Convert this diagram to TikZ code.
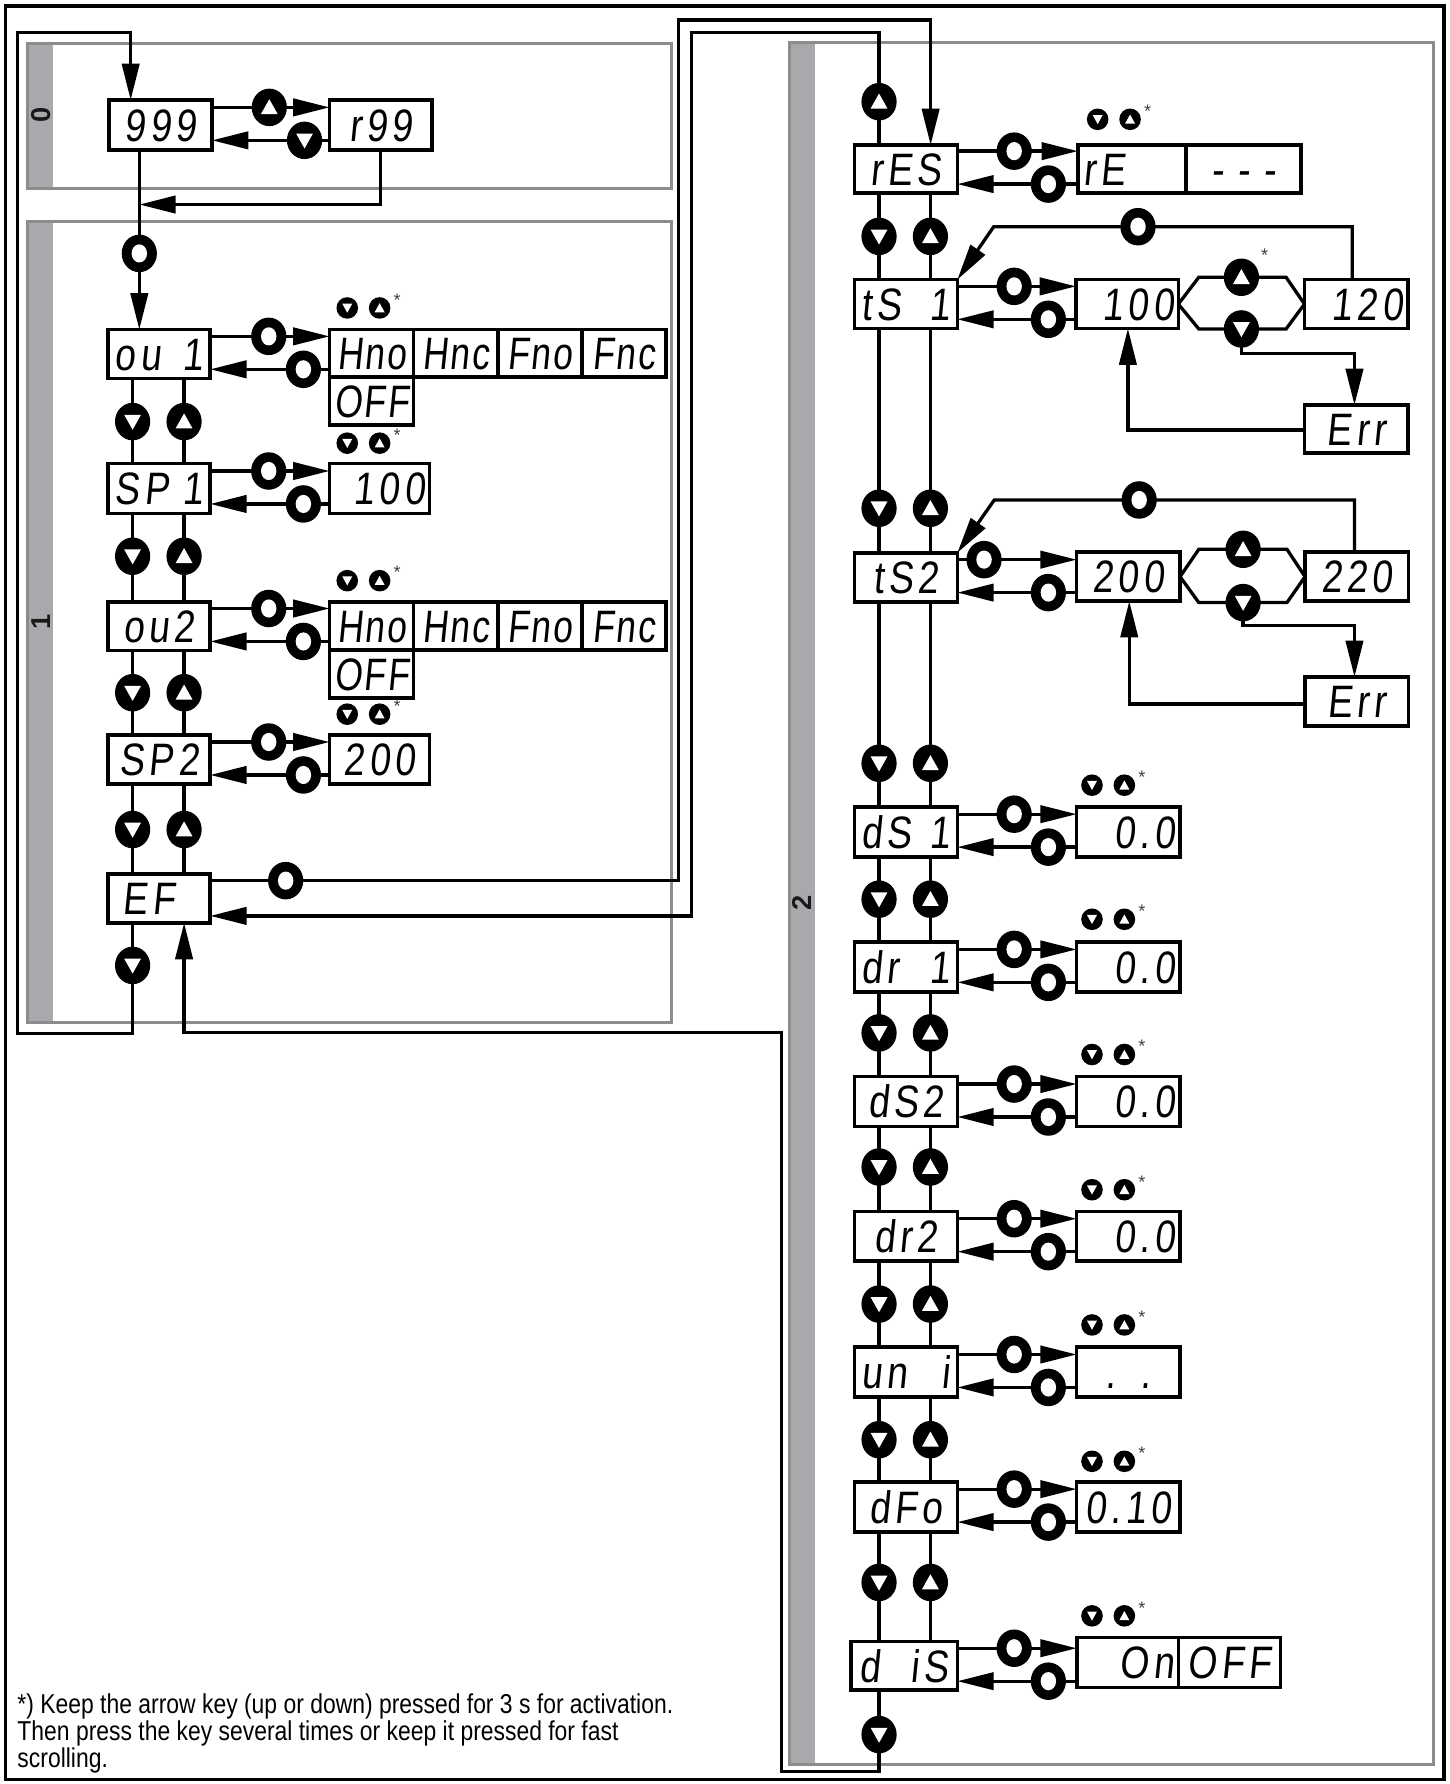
\documentclass[tikz,border=0pt]{standalone}
\usepackage{fontspec}
\setmainfont{Liberation Sans}
\newfontfamily\lcdfont{Liberation Sans}[FakeSlant=0.1,FakeStretch=0.82,LetterSpace=10]
\newfontfamily\lcdopt{Liberation Sans}[FakeSlant=0.1,FakeStretch=0.78,LetterSpace=4]
\newfontfamily\fnfont{Liberation Sans}[FakeStretch=0.84]
\usetikzlibrary{arrows.meta,shapes.geometric,calc}
\pgfdeclarelayer{panels}
\pgfdeclarelayer{lines}
\pgfsetlayers{panels,lines,main}
\definecolor{pborder}{HTML}{8C8C8C}
\definecolor{pstripe}{HTML}{A7A9AC}
\newcommand\lcdsp[2]{\hbox to 39pt{#1\hfill#2}}
\tikzset{
  x=0.5pt,y=-0.5pt,
  conn/.style={line width=1.45pt},
  arr/.style={conn,-{Triangle[length=16pt,width=7.6pt]}},
  lcd/.style={draw,line width=1.6pt,fill=white,inner sep=0pt,outer sep=0pt,
    font=\lcdfont\fontsize{20}{20}\selectfont,text height=14.3pt,text depth=0pt},
  opt/.style={lcd,font=\lcdopt\fontsize{20}{20}\selectfont,minimum width=37pt,minimum height=21pt},
  sz/.style 2 args={minimum width=#1,minimum height=#2},
  rt/.style={align=right,text width=#1},
  lt/.style={align=left,text width=#1},
  bigkey/.style={ellipse,fill=black,minimum width=15.5pt,minimum height=16.5pt,inner sep=0pt,outer sep=0pt},
  okey/.style={bigkey,path picture={\fill[white] (path picture bounding box.center) ellipse [x radius=3.4pt,y radius=4pt];}},
  ukey/.style={bigkey,path picture={\fill[white] ($(path picture bounding box.center)+(0pt,3.6pt)$) -- ++(-3.7pt,-6.6pt) -- ++(7.4pt,0pt) -- cycle;}},
  dkey/.style={bigkey,path picture={\fill[white] ($(path picture bounding box.center)+(0pt,-3.6pt)$) -- ++(-3.7pt,6.6pt) -- ++(7.4pt,0pt) -- cycle;}},
  smkey/.style={circle,fill=black,minimum size=9.5pt,inner sep=0pt},
  sukey/.style={smkey,path picture={\fill[white] ($(path picture bounding box.center)+(0pt,2.1pt)$) -- ++(-2.2pt,-4pt) -- ++(4.4pt,0pt) -- cycle;}},
  sdkey/.style={smkey,path picture={\fill[white] ($(path picture bounding box.center)+(0pt,-2.1pt)$) -- ++(-2.2pt,4pt) -- ++(4.4pt,0pt) -- cycle;}},
  ast/.style={inner sep=0pt,font=\fontsize{8}{8}\selectfont,text=black!75},
  plabel/.style={inner sep=0pt,font=\bfseries\fontsize{12}{12}\selectfont,rotate=90,text=black!90},
  panel/.style={draw=pborder,line width=1.4pt},
}
\newcommand\prow[6]{%
  \coordinate (#1kt) at (#4,#3);
  \coordinate (#1kb) at (#6,#5);
  \begin{pgfonlayer}{lines}
    \draw[arr] (#1.east |- #1kt) -- (#2.west |- #1kt);
    \draw[arr] (#2.west |- #1kb) -- (#1.east |- #1kb);
  \end{pgfonlayer}
  \node[okey] (#1ko) at (#1kt) {};
  \node[okey] (#1ki) at (#1kb) {};
}
\newcommand\skeys[3]{%
  \node[sdkey] (#1a) at (#2,#3) {};
  \node[sukey] (#1b) at ($(#1a)+(28.5,0)$) {};
  \node[ast] (#1c) at ($(#1a)+(44,-7)$) {*};
}
\begin{document}
\begin{tikzpicture}
\useasboundingbox (0,0) rectangle (1276,1570);
% panels
\begin{pgfonlayer}{panels}
  \fill[pstripe] (24.4,38) rectangle (46.4,166);
  \draw[panel] (24.4,38) rectangle (591,166);
  \fill[pstripe] (24.4,195) rectangle (46.4,900);
  \draw[panel] (24.4,195) rectangle (591,900);
  \fill[pstripe] (694.6,37.6) rectangle (717,1553);
  \draw[panel] (694.6,37.6) rectangle (1261.7,1553);
  \draw[line width=1.6pt] (5,5) rectangle (1271,1566);
\end{pgfonlayer}
\node[plabel] (l0) at (36.5,101) {0};
\node[plabel] (l1) at (36.5,547) {1};
\node[plabel] (l2) at (706,795) {2};

% left column boxes
\node[lcd,sz={45.3pt}{22pt}] (n999) at (141.3,110) {999};
\node[lcd,sz={45pt}{22pt}] (nr99) at (335,110) {r99};
\node[lcd,sz={45pt}{21.5pt}] (ou1) at (140,311.5) {\lcdsp{ou}{1}};
\node[opt] (Hno1) at (327,311) {Hno};
\node[opt] (Hnc1) at (401,311) {Hnc};
\node[opt] (Fno1) at (475,311) {Fno};
\node[opt] (Fnc1) at (549,311) {Fnc};
\node[opt] (OFF1) at (327,353) {OFF};
\node[lcd,sz={45pt}{22pt}] (SP1) at (140,430) {\lcdsp{SP}{1}};
\node[lcd,sz={44pt}{22pt},rt={40pt}] (v100a) at (334,430) {100};
\node[lcd,sz={45pt}{21.5pt}] (ou2) at (140,551) {ou2};
\node[opt] (Hno2) at (327,551) {Hno};
\node[opt] (Hnc2) at (401,551) {Hnc};
\node[opt] (Fno2) at (475,551) {Fno};
\node[opt] (Fnc2) at (549,551) {Fnc};
\node[opt] (OFF2) at (327,593) {OFF};
\node[lcd,sz={45pt}{21.5pt}] (SP2) at (140,668.6) {SP2};
\node[lcd,sz={44pt}{21.5pt}] (v200a) at (334,668.6) {200};
\node[lcd,sz={45pt}{21.5pt}] (EF) at (140,790.7) {EF\phantom{0}};

% right column boxes
\node[lcd,sz={45.25pt}{21pt}] (rES) at (797.25,148.6) {rES};
\node[lcd,sz={47.7pt}{21pt},lt={43pt}] (rE) at (996.3,148.6) {rE};
\node[lcd,sz={50.5pt}{21pt}] (dash) at (1094.5,148.6) {-\hspace{6pt}-\hspace{6pt}-};
\node[lcd,sz={45.25pt}{21.5pt}] (tS1) at (797.25,267.6) {\lcdsp{tS}{1}};
\node[lcd,sz={45pt}{21.5pt},rt={41pt}] (v100b) at (992,267.6) {100};
\node[lcd,sz={45.5pt}{21.5pt},rt={41pt}] (v120) at (1193.5,267.6) {120};
\node[lcd,sz={45.5pt}{21pt}] (Err1) at (1193.5,377.5) {Err};
\node[lcd,sz={45.25pt}{21.5pt}] (tS2) at (797.25,508) {tS2};
\node[lcd,sz={45.5pt}{21.5pt}] (v200b) at (993,507.5) {200};
\node[lcd,sz={45.5pt}{21.5pt}] (v220) at (1194,507.5) {220};
\node[lcd,sz={45.5pt}{21.5pt}] (Err2) at (1194,617.2) {Err};
\node[lcd,sz={45.25pt}{22pt}] (dS1) at (797.25,732) {\lcdsp{dS}{1}};
\node[lcd,sz={45.5pt}{22pt},rt={41pt}] (vdS1) at (993,732) {0.0};
\node[lcd,sz={45.25pt}{22pt}] (dr1) at (797.25,851) {\lcdsp{dr}{1}};
\node[lcd,sz={45.5pt}{22pt},rt={41pt}] (vdr1) at (993,851) {0.0};
\node[lcd,sz={45.25pt}{22pt}] (dS2) at (797.25,969.5) {dS2};
\node[lcd,sz={45.5pt}{22pt},rt={41pt}] (vdS2) at (993,969.5) {0.0};
\node[lcd,sz={45.25pt}{22pt}] (dr2) at (797.25,1088) {dr2};
\node[lcd,sz={45.5pt}{22pt},rt={41pt}] (vdr2) at (993,1088) {0.0};
\node[lcd,sz={45.25pt}{22pt}] (uni) at (797.25,1207.5) {\lcdsp{un}{i}};
\node[lcd,sz={45.5pt}{22pt}] (vuni) at (993,1207.5) {.\hspace{11pt}.};
\node[lcd,sz={45.25pt}{22pt}] (dFo) at (797.25,1326) {dFo};
\node[lcd,sz={45.5pt}{22pt}] (vdFo) at (993,1326) {0.10};
\node[lcd,sz={46.75pt}{21.5pt}] (diS) at (795.75,1466) {\lcdsp{d}{iS}};
\node[lcd,sz={44.75pt}{22pt},rt={41pt}] (On) at (992.3,1463) {On};
\node[lcd,sz={45pt}{22pt}] (OFF3) at (1082,1463) {OFF};

% parameter rows
\prow{ou1}{Hno1}{296}{236.5}{325}{267}
\prow{SP1}{v100a}{414.5}{236.5}{443.5}{267}
\prow{ou2}{Hno2}{535.5}{236.5}{564.5}{267}
\prow{SP2}{v200a}{653}{236.5}{682}{267}
\prow{rES}{rE}{133}{892.5}{162}{922.6}
\prow{tS1}{v100b}{252}{892.5}{281}{922.6}
\prow{tS2}{v200b}{492.5}{866}{521.5}{922.6}
\prow{dS1}{vdS1}{716.5}{892.5}{745.5}{922.6}
\prow{dr1}{vdr1}{835.5}{892.5}{864.5}{922.6}
\prow{dS2}{vdS2}{954}{892.5}{983}{922.6}
\prow{dr2}{vdr2}{1072.5}{892.5}{1101.5}{922.6}
\prow{uni}{vuni}{1192}{892.5}{1221}{922.6}
\prow{dFo}{vdFo}{1310.5}{892.5}{1339.5}{922.6}
\prow{diS}{On}{1450.5}{892.5}{1479.5}{922.6}

% small key pairs
\skeys{sk1}{305.6}{271}
\skeys{sk2}{305.6}{390}
\skeys{sk3}{305.6}{511}
\skeys{sk4}{305.6}{628.5}
\skeys{sk5}{966}{105}
\skeys{sk6}{961}{691}
\skeys{sk7}{961}{809}
\skeys{sk8}{961}{928}
\skeys{sk9}{961}{1047}
\skeys{sk10}{961}{1166}
\skeys{sk11}{961}{1286}
\skeys{sk12}{961}{1422}

% coordinates
\coordinate (xdL) at (116.7,0);
\coordinate (xuL) at (162,0);
\coordinate (xdR) at (773.6,0);
\coordinate (xuR) at (818.8,0);
\coordinate (k99a) at (237,94.5);
\coordinate (k99b) at (268,123.5);
\coordinate (r1) at (335,180);
\coordinate (r2) at (122.6,180);
\coordinate (m1) at (122.6,223);
\coordinate (a0) at (251.4,775);
\coordinate (a1) at (597,775);
\coordinate (a2) at (597,17.6);
\coordinate (a3) at (819,17.6);
\coordinate (b0) at (773.6,89.5);
\coordinate (b1) at (773.6,28.7);
\coordinate (b2) at (608.7,28.7);
\coordinate (b3) at (608.7,806);
\coordinate (c0) at (116.7,849.6);
\coordinate (c1) at (116.7,909.4);
\coordinate (c2) at (15.7,909.4);
\coordinate (c3) at (15.7,28.5);
\coordinate (c4) at (115,28.5);
\coordinate (d0) at (773.6,1526.5);
\coordinate (d1) at (773.6,1559);
\coordinate (d2) at (688,1559);
\coordinate (d3) at (688,908.7);
\coordinate (d4) at (162,908.7);
% ts1 loop
\coordinate (h1a) at (1055,244);
\coordinate (h1b) at (1131.8,244);
\coordinate (h1c) at (1055,289.5);
\coordinate (h1d) at (1131.8,289.5);
\coordinate (h1u) at (1092.5,244);
\coordinate (h1w) at (1092.5,289.5);
\coordinate (e1a) at (1092.5,311);
\coordinate (e1b) at (1192,311);
\coordinate (e1c) at (992.6,378.4);
\coordinate (t1a) at (1190,199.5);
\coordinate (t1o) at (1001.5,199.5);
\coordinate (t1b) at (874.5,199.5);
% ts2 loop
\coordinate (h2a) at (1055,483.4);
\coordinate (h2b) at (1132.6,483.4);
\coordinate (h2c) at (1055,530.3);
\coordinate (h2d) at (1132.6,530.3);
\coordinate (h2u) at (1094,483.4);
\coordinate (h2w) at (1094,530.3);
\coordinate (e2a) at (1094,550.6);
\coordinate (e2b) at (1192,550.6);
\coordinate (e2c) at (993.8,619.5);
\coordinate (t2a) at (1192,440);
\coordinate (t2o) at (1002.5,440);
\coordinate (t2b) at (875,440);

\begin{pgfonlayer}{lines}
  % columns
  \draw[conn] (ou1.south -| xdL) -- (EF.north -| xdL);
  \draw[conn] (ou1.south -| xuL) -- (EF.north -| xuL);
  \draw[conn] (rES.south -| xdR) -- (diS.north -| xdR);
  \draw[conn] (rES.south -| xuR) -- (diS.north -| xuR);
  % 999 / r99
  \draw[arr] (n999.east |- k99a) -- (nr99.west |- k99a);
  \draw[arr] (nr99.west |- k99b) -- (n999.east |- k99b);
  \draw[arr] (nr99.south -| r1) -- (r1) -- (r2);
  \draw[arr] (n999.south -| m1) -- (ou1.north -| m1);
  % EF links
  \draw[arr] (EF.east |- a1) -- (a1) -- (a2) -- (a3) -- (rES.north -| a3);
  \draw[arr] (rES.north -| b1) -- (b1) -- (b2) -- (b3) -- (EF.east |- b3);
  \draw[arr] (EF.south -| c1) -- (c1) -- (c2) -- (c3) -- (c4) -- (n999.north -| c4);
  \draw[arr] (diS.south -| d1) -- (d1) -- (d2) -- (d3) -- (d4) -- (EF.south -| d4);
  % ts1
  \draw[conn] (v100b.east) -- (h1a) -- (h1b) -- (v120.west);
  \draw[conn] (v100b.east) -- (h1c) -- (h1d) -- (v120.west);
  \draw[arr] (h1w) -- (e1a) -- (e1b) -- (Err1.north -| e1b);
  \draw[arr] (Err1.west |- e1c) -- (e1c) -- (v100b.south -| e1c);
  \draw[arr] (v120.north -| t1a) -- (t1a) -- (t1b) -- (tS1.north east);
  % ts2
  \draw[conn] (v200b.east) -- (h2a) -- (h2b) -- (v220.west);
  \draw[conn] (v200b.east) -- (h2c) -- (h2d) -- (v220.west);
  \draw[arr] (h2w) -- (e2a) -- (e2b) -- (Err2.north -| e2b);
  \draw[arr] (Err2.west |- e2c) -- (e2c) -- (v200b.south -| e2c);
  \draw[arr] (v220.north -| t2a) -- (t2a) -- (t2b) -- (tS2.north east);
\end{pgfonlayer}

% keys
\node[ukey] (k99u) at (k99a) {};
\node[dkey] (k99d) at (k99b) {};
\node[okey] (km1) at (m1) {};
\node[okey] (ka0) at (a0) {};
\node[ukey] (kb0) at (b0) {};
\node[dkey] (kc0) at (c0) {};
\node[dkey] (kd0) at (d0) {};
\node[ukey] (kh1u) at (h1u) {};
\node[dkey] (kh1w) at (h1w) {};
\node[okey] (kt1o) at (t1o) {};
\node[ast] (ast1) at (1113,224.4) {*};
\node[ukey] (kh2u) at (h2u) {};
\node[dkey] (kh2w) at (h2w) {};
\node[okey] (kt2o) at (t2o) {};
\foreach \yy [count=\i] in {371,489.5,609.6,730} {
  \node[dkey] (kdL\i) at (116.7,\yy) {};
  \node[ukey] (kuL\i) at (162,\yy) {};
}
\foreach \yy [count=\i] in {208,447.3,671.7,791.3,909,1027,1147.6,1267,1392.6} {
  \node[dkey] (kdR\i) at (773.6,\yy) {};
  \node[ukey] (kuR\i) at (818.8,\yy) {};
}

% footnote
\node[anchor=north west,align=left,inner sep=0pt,font=\fnfont\fontsize{12}{12}\selectfont] (fn) at (15,1490)
  {*) Keep the arrow key (up or down) pressed for 3 s for activation.\\
   Then press the key several times or keep it pressed for fast\\
   scrolling.};
\end{tikzpicture}
\end{document}
